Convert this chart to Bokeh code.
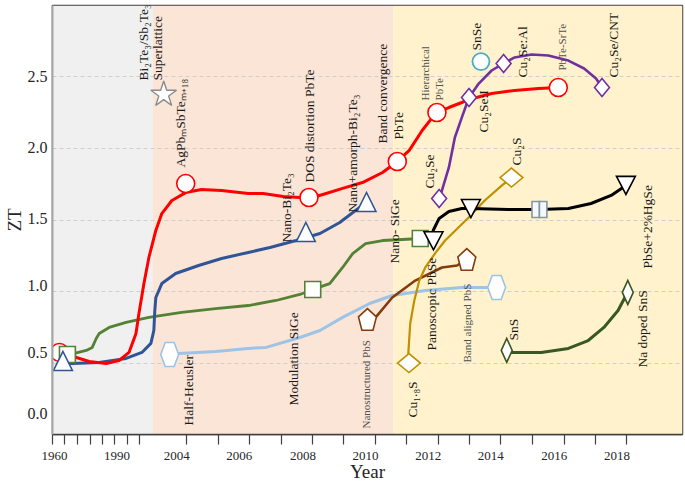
import math
import numpy as np
from bokeh.plotting import figure
from bokeh.models import Range1d, FixedTicker, BoxAnnotation, ColumnDataSource
from bokeh.core.properties import value
from bokeh.embed import file_html
from bokeh.resources import INLINE

FONT = "Liberation Serif"

# ---------------- data (year, ZT) ----------------
red_curve_year = [1964.0, 1969.6, 1974.8, 1981.6, 1986.8, 1990.8, 1993.6, 1994.8, 1996.8, 1998.8,
                  2003.02, 2003.21, 2003.53, 2003.97, 2004.47, 2005.11, 2005.96, 2006.43, 2007.07,
                  2007.60, 2007.89, 2008.33, 2008.96, 2009.59, 2010.23, 2010.70, 2011.08, 2011.49,
                  2011.81, 2011.96, 2012.34, 2012.75, 2012.98, 2013.70, 2014.43, 2015.19, 2015.82]
red_curve_zt = [0.61, 0.542, 0.514, 0.500, 0.521, 0.577, 0.709, 0.849, 1.058, 1.239,
                1.427, 1.545, 1.636, 1.691, 1.712, 1.706, 1.685, 1.685, 1.664,
                1.657, 1.650, 1.678, 1.720, 1.761, 1.831, 1.908, 1.985, 2.124,
                2.214, 2.249, 2.284, 2.319, 2.340, 2.382, 2.403, 2.416, 2.423]
red_pts_year = [1962.8, 2003.97, 2007.89, 2010.70, 2011.96, 2015.82]
red_pts_zt = [0.577, 1.754, 1.657, 1.908, 2.249, 2.423]

blue_curve_year = [1964.8, 1968.0, 1978.8, 1989.6, 1996.0, 1999.6, 2001.76, 2002.65, 2003.02, 2003.21,
                   2003.65, 2004.38, 2005.11, 2005.96, 2006.65, 2007.48, 2008.24, 2008.87, 2009.37, 2009.72]
blue_curve_zt = [0.500, 0.500, 0.507, 0.535, 0.577, 0.640, 0.730, 0.870, 0.960, 1.057,
                 1.127, 1.183, 1.232, 1.274, 1.308, 1.357, 1.406, 1.483, 1.566, 1.622]
blue_pts_year = [1964.2, 2007.79, 2009.72]
blue_pts_zt = [0.514, 1.413, 1.622]

green_curve_year = [1966.4, 1968.8, 1973.6, 1976.0, 1977.6, 1978.8, 1982.8, 1989.6, 1998.8, 2003.84,
                    2004.92, 2005.96, 2006.84, 2007.60, 2008.01, 2008.55, 2008.96, 2009.28, 2009.69,
                    2010.23, 2010.86, 2011.43]
green_curve_zt = [0.570, 0.570, 0.591, 0.612, 0.674, 0.709, 0.751, 0.786, 0.821, 0.856,
                  0.883, 0.904, 0.939, 0.981, 1.016, 1.057, 1.169, 1.266, 1.336,
                  1.357, 1.364, 1.371]
green_pts_year = [1966.0, 2008.01, 2011.43]
green_pts_zt = [0.563, 1.016, 1.371]

hh_curve_year = [2003.46, 2003.75, 2004.92, 2005.96, 2006.53, 2007.60, 2008.24, 2008.96, 2009.82,
                 2010.54, 2011.59, 2012.75, 2013.86]
hh_curve_zt = [0.563, 0.570, 0.584, 0.605, 0.612, 0.681, 0.730, 0.821, 0.918,
               0.974, 1.009, 1.030, 1.030]
hh_pts_year = [2003.46, 2013.86]
hh_pts_zt = [0.563, 1.030]

pbs_curve_year = [2009.75, 2010.01, 2010.54, 2011.27, 2012.12, 2012.60, 2012.91]
pbs_curve_zt = [0.807, 0.821, 0.960, 1.078, 1.169, 1.183, 1.225]
pbs_pts_year = [2009.75, 2012.91]
pbs_pts_zt = [0.807, 1.225]

cus_curve_year = [2011.07, 2011.05, 2011.11, 2011.24, 2011.40, 2011.59, 2011.90, 2012.22,
                  2012.97, 2013.48, 2014.02, 2014.33]
cus_curve_zt = [0.503, 0.570, 0.779, 0.939, 1.078, 1.169, 1.267, 1.357,
                1.518, 1.636, 1.740, 1.796]
cus_pts_year = [2011.07, 2014.33]
cus_pts_zt = [0.503, 1.796]

pbse_curve_year = [2011.85, 2011.84, 2012.03, 2012.34, 2012.75, 2013.04, 2014.24, 2015.22,
                   2016.14, 2016.86, 2017.50, 2017.97]
pbse_curve_zt = [1.355, 1.427, 1.511, 1.559, 1.580, 1.580, 1.573, 1.573,
                 1.580, 1.615, 1.671, 1.741]
pbse_pts_year = [2011.85, 2013.04, 2017.97]
pbse_pts_zt = [1.355, 1.580, 1.741]
pbse_box_year = [2015.22]
pbse_box_zt = [1.573]

cuse_curve_year = [2012.03, 2012.12, 2012.34, 2012.53, 2012.75, 2012.98, 2013.29, 2013.70, 2014.08,
                   2014.43, 2014.97, 2015.50, 2016.14, 2016.64, 2017.02, 2017.21]
cuse_curve_zt = [1.650, 1.706, 1.866, 2.075, 2.214, 2.354, 2.451, 2.542, 2.591,
                 2.633, 2.653, 2.646, 2.611, 2.556, 2.486, 2.423]
cuse_pts_year = [2012.03, 2012.98, 2014.08, 2017.21]
cuse_pts_zt = [1.650, 2.354, 2.591, 2.423]

sns_curve_year = [2014.18, 2014.33, 2015.28, 2016.14, 2016.77, 2017.27, 2017.72, 2017.97, 2018.03]
sns_curve_zt = [0.591, 0.577, 0.577, 0.605, 0.660, 0.751, 0.869, 0.974, 0.995]
sns_pts_year = [2014.18, 2018.03]
sns_pts_zt = [0.591, 0.995]

snse_year = [2013.36]
snse_zt = [2.604]
star_year = [2003.27]
star_zt = [2.375]

label_text = ["Bi₂Te₃/Sb₂Te₃", "Superlattice", "AgPbₘSbTeₘ₊₁₈", "DOS distortion PbTe",
              "Nano-Bi₂Te₃", "Nano+amorph-Bi₂Te₃", "Band  convergence", "PbTe",
              "Hierarchical", "PbTe", "Cu₂Se", "Nano- SiGe", "Panoscopic PbSe",
              "Cu₁.₈S", "Nanostructured  PbS", "Modulation SiGe", "Half-Heusler",
              "SnSe", "Cu₂Se:Al", "PbTe-SrTe", "Cu₂Se/CNT", "Cu₂Se:I", "Cu₂S",
              "PbSe+2%HgSe", "Na doped SnS", "SnS", "Band  aligned  PbS"]
label_year = [1996.8, 2003.08, 2003.81, 2007.92, 2007.16, 2009.28, 2010.23, 2010.73,
              2011.59, 2012.03, 2011.71, 2010.61, 2011.78, 2011.17, 2009.69, 2007.41,
              2004.06, 2013.23, 2014.68, 2015.95, 2017.56, 2013.45, 2014.49, 2018.66,
              2018.51, 2014.40, 2012.91]
label_zt = [2.472, 2.472, 1.866, 1.761, 1.343, 1.552, 2.033, 2.061,
            2.333, 2.333, 1.720, 1.197, 0.591, 0.124, 0.047, 0.207,
            0.068, 2.681, 2.493, 2.542, 2.493, 2.110, 1.880, 1.162,
            0.472, 0.660, 0.507]
label_small = [False, False, False, False, False, False, False, False,
               True, True, False, False, False, False, True, False,
               False, False, False, True, False, False, False, False,
               False, False, True]

x_tick_years = [1960, 1965, 1970, 1975, 1980, 1985, 1990, 1995] + list(range(2004, 2019))
x_label_years = [1960, 1990, 2004, 2006, 2008, 2010, 2012, 2014, 2016, 2018]
y_tick_text = ["0.0", "0.5", "1.0", "1.5", "2.0", "2.5"]
y_tick_label_pos = [0.152, 0.577, 1.044, 1.510, 2.005, 2.500]
y_grid_values = [0.5, 1.0, 1.5, 2.0, 2.5]
era_years = [1960, 2001, 2010.57, 2019.77]
era_colors = ["#f0f0f0", "#fbe5d6", "#fff2cc"]

# ---------------- broken time axis ----------------
OLD_X0, OLD_PER_YR = 48.0, 2.5      # 1960-2000 compressed
NEW_X0, NEW_PER_YR = 183.0, 31.64   # 2004 onwards


def xpos(year):
    y = np.asarray(year, dtype=float)
    old = OLD_X0 + (y - 1960) * OLD_PER_YR
    new = NEW_X0 + (y - 2004) * NEW_PER_YR
    g0 = OLD_X0 + 40 * OLD_PER_YR
    g1 = NEW_X0 - NEW_PER_YR
    gap = g0 + (y - 2000) / 3.0 * (g1 - g0)
    return np.where(y <= 2000, old, np.where(y >= 2003, new, gap))


PX_PER_ZT = 143.5

p = figure(width=685, height=484, output_backend="svg", toolbar_location=None,
           x_range=Range1d(float(xpos(1960)), float(xpos(2019.77))),
           y_range=Range1d(0.005, 2.995),
           min_border_left=48, min_border_right=3, min_border_top=5, min_border_bottom=50,
           background_fill_color="white", border_fill_color="white")
p.outline_line_color = "#404040"
p.outline_line_width = 1.5

for i, c in enumerate(era_colors):
    p.add_layout(BoxAnnotation(left=float(xpos(era_years[i])), right=float(xpos(era_years[i + 1])),
                               fill_color=c, fill_alpha=1.0, line_color=None, level="image"))

# axes
lab_pos = [int(round(max(float(xpos(y)) - 10, 50))) for y in x_label_years]
tick_pos = [int(round(float(xpos(y)))) for y in x_tick_years]
p.xaxis.ticker = FixedTicker(ticks=lab_pos, minor_ticks=tick_pos)
p.xaxis.major_label_overrides = {k: str(y) for k, y in zip(lab_pos, x_label_years)}
p.xaxis.major_tick_out = 0
p.xaxis.major_tick_in = 0
p.xaxis.minor_tick_out = 10
p.xaxis.minor_tick_in = 0
p.xaxis.minor_tick_line_color = "#404040"
p.xaxis.minor_tick_line_width = 1.2
p.xaxis.axis_line_color = "#404040"
p.xaxis.axis_line_width = 1.5
p.xaxis.major_label_text_font = FONT
p.xaxis.major_label_text_font_size = "13px"
p.xaxis.major_label_text_color = "#262626"
p.xaxis.major_label_standoff = 7
p.xaxis.axis_label = "Year"
p.xaxis.axis_label_text_font = FONT
p.xaxis.axis_label_text_font_size = "19px"
p.xaxis.axis_label_text_font_style = "normal"
p.xaxis.axis_label_text_color = "#262626"
p.xaxis.axis_label_standoff = -2

p.yaxis.ticker = FixedTicker(ticks=y_tick_label_pos)
p.yaxis.major_label_overrides = {k: t for k, t in zip(y_tick_label_pos, y_tick_text)}
p.yaxis.major_tick_out = 0
p.yaxis.major_tick_in = 0
p.yaxis.minor_tick_out = 0
p.yaxis.minor_tick_in = 0
p.yaxis.axis_line_color = "#a6a6a6"
p.yaxis.axis_line_width = 2
p.yaxis.major_label_text_font = FONT
p.yaxis.major_label_text_font_size = "16px"
p.yaxis.major_label_text_color = "#262626"
p.yaxis.major_label_standoff = 5
p.yaxis.axis_label = "ZT"
p.yaxis.axis_label_text_font = FONT
p.yaxis.axis_label_text_font_size = "19px"
p.yaxis.axis_label_text_font_style = "normal"
p.yaxis.axis_label_text_color = "#262626"
p.yaxis.axis_label_standoff = 0

p.xgrid.visible = False
p.ygrid.ticker = FixedTicker(ticks=y_grid_values)
p.ygrid.grid_line_color = "#cfcfcf"
p.ygrid.grid_line_dash = "4 3"
p.ygrid.grid_line_width = 1

# curves
curves = [
    (hh_curve_year, hh_curve_zt, "#9dc3e6", 3),
    (green_curve_year, green_curve_zt, "#548235", 2.8),
    (blue_curve_year, blue_curve_zt, "#2f5597", 3),
    (red_curve_year, red_curve_zt, "#ff0000", 3),
    (pbs_curve_year, pbs_curve_zt, "#843c0c", 2.6),
    (cus_curve_year, cus_curve_zt, "#bf9000", 2.2),
    (pbse_curve_year, pbse_curve_zt, "#000000", 3),
    (cuse_curve_year, cuse_curve_zt, "#7030a0", 2.6),
    (sns_curve_year, sns_curve_zt, "#385723", 3),
]
for yrs, zts, col, w in curves:
    p.line(xpos(yrs), zts, line_color=col, line_width=w, line_join="round", line_cap="round")


def shape(years, zts, verts):
    xs, ys = [], []
    for x0, y0 in zip(xpos(years), zts):
        xs.append([float(x0) + dx for dx, dy in verts])
        ys.append([y0 + dy / PX_PER_ZT for dx, dy in verts])
    return xs, ys


def pentagon(rx, ry):
    shift = ry * (1 - math.cos(math.radians(36))) / 2
    return [(rx * math.cos(math.radians(a)), ry * math.sin(math.radians(a)) - shift)
            for a in (90, 162, 234, 306, 18)]


HEX = [(-9, 0), (-4.5, 12), (4.5, 12), (9, 0), (4.5, -12), (-4.5, -12)]
TRI_UP = [(0, 10), (-9.5, -9), (9.5, -9)]
TRI_DOWN = [(0, -9), (-9.5, 9), (9.5, 9)]
SQUARE = [(-8, -8), (-8, 8), (8, 8), (8, -8)]
DIAM_GOLD = [(-11.5, 0), (0, 9.5), (11.5, 0), (0, -9.5)]
DIAM_PURPLE = [(-7.5, 0), (0, 9), (7.5, 0), (0, -9)]
DIAM_SNS = [(-5.5, 0), (0, 12), (5.5, 0), (0, -12)]
HALF_BOX_L = [(-7.5, -8), (-7.5, 8), (0, 8), (0, -8)]
HALF_BOX_R = [(0, -8), (0, 8), (7.5, 8), (7.5, -8)]

# markers (early ones first so stacking matches)
p.scatter(xpos(red_pts_year), red_pts_zt, marker="circle", size=18, fill_color="white",
          line_color="#ff0000", line_width=1.6)
for yrs, zts, verts, col, fill in [
    (green_pts_year, green_pts_zt, SQUARE, "#548235", "white"),
    (blue_pts_year, blue_pts_zt, TRI_UP, "#2f5597", "white"),
    (hh_pts_year, hh_pts_zt, HEX, "#9dc3e6", "white"),
    (pbs_pts_year, pbs_pts_zt, pentagon(9.5, 12), "#843c0c", "white"),
    (cus_pts_year, cus_pts_zt, DIAM_GOLD, "#bf9000", "white"),
    (pbse_pts_year, pbse_pts_zt, TRI_DOWN, "#000000", "white"),
    (cuse_pts_year, cuse_pts_zt, DIAM_PURPLE, "#7030a0", "white"),
    (sns_pts_year, sns_pts_zt, DIAM_SNS, "#385723", "white"),
    (pbse_box_year, pbse_box_zt, HALF_BOX_L, "#8497a4", "#f4f8fb"),
    (pbse_box_year, pbse_box_zt, HALF_BOX_R, "#8497a4", "#f4f8fb"),
]:
    xs, ys = shape(yrs, zts, verts)
    p.patches(xs, ys, fill_color=fill, line_color=col, line_width=1.6, line_join="miter")

p.scatter(xpos(snse_year), snse_zt, marker="circle", size=17, fill_color="white",
          line_color="#4bacc6", line_width=1.8)
p.scatter(xpos(star_year), star_zt, marker="star", size=27, fill_color="white",
          line_color="#8c8c8c", line_width=1.4)

# rotated labels
src = ColumnDataSource(dict(
    x=xpos(label_year), y=label_zt, text=label_text,
    size=["11px" if s else "13.5px" for s in label_small],
    color=["#505050" if s else "#1a1a1a" for s in label_small]))
p.text(x="x", y="y", text="text", source=src, angle=math.pi / 2, text_align="left",
       text_baseline="middle", text_font=value(FONT), text_font_size="size", text_color="color")

open("out.html", "w").write(file_html(p, INLINE))
